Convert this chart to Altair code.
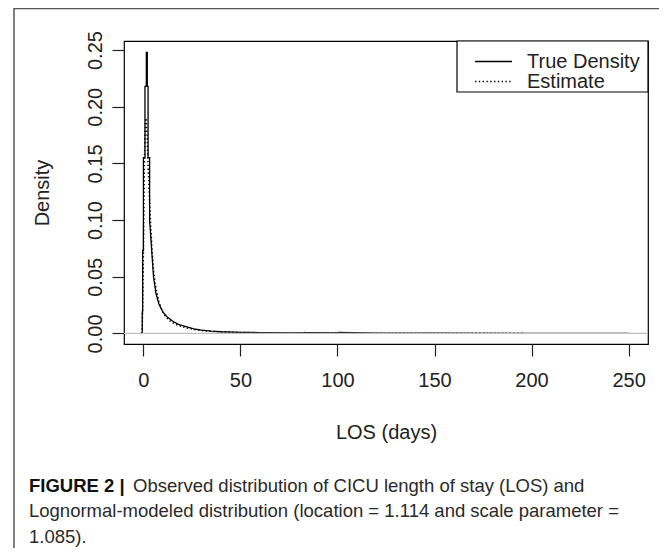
import altair as alt
import pandas as pd

FONT = "Liberation Sans"

# ---- data ----
series_names = ["True Density", "Estimate"]

true_x = [-0.6, -0.6, -0.4, -0.4, 0.0, 0.0, 0.8, 0.8, 1.5, 1.5, 2.0, 2.0, 2.4, 2.4, 3.2, 3.2,
          4.2, 5.2, 6.5, 8.0, 10, 12, 15, 18, 22, 26, 30, 35, 40, 50, 60, 75,
          82, 84, 99, 101, 120, 150, 200, 250]
true_y = [0.0, 0.019, 0.019, 0.073, 0.073, 0.155, 0.155, 0.218, 0.218, 0.248, 0.248, 0.218, 0.218, 0.155, 0.155, 0.100,
          0.075, 0.050, 0.035, 0.026, 0.019, 0.015, 0.011, 0.008, 0.006, 0.004, 0.003, 0.002, 0.0015, 0.001, 0.0008, 0.0006,
          0.0005, 0.0008, 0.0005, 0.0009, 0.0003, 0.0002, 0.0001, 0.0001]

est_x = [-1.0, -0.6, -0.3, 0.0, 0.3, 0.6, 1.0, 1.4, 1.9, 2.5, 3.1, 3.8, 4.5, 5.2, 6.0, 6.9,
         8.0, 9.5, 11, 13, 15, 18, 22, 26, 30, 35, 40, 50, 60, 75, 80, 83, 86, 95, 100, 105,
         120, 140, 160, 180, 196]
est_y = [0.0, 0.005, 0.03, 0.07, 0.12, 0.16, 0.185, 0.19, 0.175, 0.145, 0.12, 0.094, 0.072, 0.056, 0.045, 0.036,
         0.028, 0.021, 0.016, 0.012, 0.0095, 0.007, 0.005, 0.0035, 0.0026, 0.0019, 0.0014, 0.0009, 0.0006, 0.0004,
         0.0004, 0.0008, 0.0003, 0.0003, 0.0007, 0.0003, 0.0002, 0.0002, 0.0001, 0.0001, 0.0001]

x_ticks = [0, 50, 100, 150, 200, 250]
y_ticks = [0.0, 0.05, 0.10, 0.15, 0.20, 0.25]

x_title = "LOS (days)"
y_title = "Density"

caption_bold = "FIGURE 2 |"
caption_lines = [
    "Observed distribution of CICU length of stay (LOS) and",
    "Lognormal-modeled distribution (location = 1.114 and scale parameter =",
    "1.085).",
]

# ---- tables ----
df_true = pd.DataFrame({"x": true_x, "y": true_y, "i": range(len(true_x))})
df_est = pd.DataFrame({"x": est_x, "y": est_y, "i": range(len(est_x))})
df_zero = pd.DataFrame({"y": [0.0]})

W, H = 524, 303

xscale = alt.Scale(domain=[-10, 260], nice=False, zero=False)
yscale = alt.Scale(domain=[-0.0093, 0.258], nice=False, zero=False)

xaxis = alt.Axis(values=x_ticks, format="d", tickSize=12, labelPadding=24,
                 labelBaseline="middle", title=x_title, titleX=W / 2, titleY=88,
                 titleBaseline="middle", titleAlign="center")
yaxis = alt.Axis(values=y_ticks, format=".2f", tickSize=12, labelPadding=11,
                 labelAngle=270, labelAlign="center", labelBaseline="alphabetic",
                 title=y_title, titleX=-82, titleY=H / 2, titleBaseline="middle",
                 titleAlign="center", titleAngle=270)

xenc = alt.X("x:Q", scale=xscale, axis=xaxis)
yenc = alt.Y("y:Q", scale=yscale, axis=yaxis)

true_line = alt.Chart(df_true).mark_line(color="black", strokeWidth=1.3, clip=True).encode(
    x=xenc, y=yenc, order=alt.Order("i:Q"))
est_line = alt.Chart(df_est).mark_line(color="black", strokeWidth=1.5, strokeDash=[1.4, 2.4], clip=True).encode(
    x=xenc, y=yenc, order=alt.Order("i:Q"))
zero_rule = alt.Chart(df_zero).mark_rule(color="#bebebe", strokeWidth=1.3).encode(y=yenc)

one = pd.DataFrame({"a": [0]})

# legend
legend_box = alt.Chart(one).mark_rect(fill="white", stroke="black", strokeWidth=1.2).encode(
    x=alt.value(333), x2=alt.value(524), y=alt.value(0), y2=alt.value(51))
leg_solid = alt.Chart(one).mark_rule(color="black", strokeWidth=1.3).encode(
    x=alt.value(351), x2=alt.value(388), y=alt.value(20.5))
leg_dot = alt.Chart(one).mark_rule(color="black", strokeWidth=1.5, strokeDash=[1.4, 2.4]).encode(
    x=alt.value(351), x2=alt.value(388), y=alt.value(40.5))


def text_layer(txt, x, y, size, weight="normal", color="#222"):
    return alt.Chart(pd.DataFrame({"t": [txt]})).mark_text(
        align="left", baseline="middle", fontSize=size, fontWeight=weight, font=FONT, color=color
    ).encode(x=alt.value(x), y=alt.value(y), text="t:N")


leg_t1 = text_layer(series_names[0], 403, 20.5, 20)
leg_t2 = text_layer(series_names[1], 403, 40.5, 20)

# figure frame (top and left edges)
frame_top = alt.Chart(one).mark_rule(color="#555", strokeWidth=1.5).encode(
    x=alt.value(-110), x2=alt.value(540), y=alt.value(-32.5))
frame_left = alt.Chart(one).mark_rule(color="#555", strokeWidth=1.5).encode(
    x=alt.value(-110), y=alt.value(-33), y2=alt.value(520))

# caption
CAP = 18.5
cap_b = text_layer(caption_bold, -95, 445, CAP, weight="bold", color="#111")
cap1 = text_layer(caption_lines[0], 9, 445, CAP, color="#2a2a2a")
cap2 = text_layer(caption_lines[1], -95, 470, CAP, color="#2a2a2a")
cap3 = text_layer(caption_lines[2], -95, 496, CAP, color="#2a2a2a")

chart = alt.layer(
    true_line, est_line, zero_rule,
    legend_box, leg_solid, leg_dot, leg_t1, leg_t2,
    frame_top, frame_left, cap_b, cap1, cap2, cap3,
).properties(
    width=W, height=H,
    autosize=alt.AutoSizeParams(type="none"),
    padding={"left": 116, "top": 33, "right": 11, "bottom": 204},
    background="white",
).configure_view(
    stroke="black", strokeWidth=1.2
).configure_axis(
    labelFont=FONT, titleFont=FONT, labelFontSize=20, titleFontSize=20,
    labelColor="#222", titleColor="#222", tickColor="#222", tickWidth=1.2,
    domain=False, grid=False, titleFontWeight="normal"
)

chart.save("out.html", embed_options={"renderer": "svg", "actions": False})
